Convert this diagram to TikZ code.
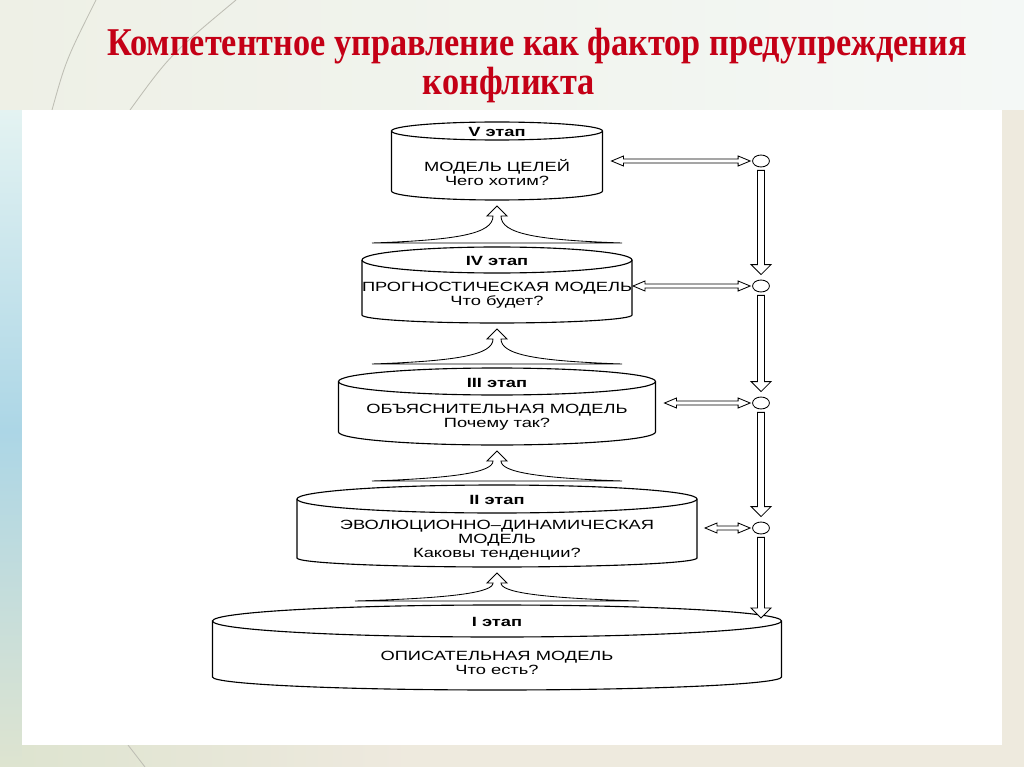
\documentclass[tikz,border=0pt]{standalone}
\usepackage{fontspec}
\setmainfont{Liberation Serif}
\newfontfamily\titlefont[FakeStretch=0.87]{Liberation Serif}
\newfontfamily\diagfont[FakeStretch=1.37]{Liberation Sans}
\usetikzlibrary{calc,shapes.geometric}

\definecolor{titlered}{RGB}{196,0,22}
\definecolor{topleft}{RGB}{238,240,230}
\definecolor{topmid}{RGB}{224,240,245}
\definecolor{topright}{RGB}{244,248,246}
\definecolor{sidetop}{RGB}{228,243,242}
\definecolor{sidemid}{RGB}{172,214,230}
\definecolor{sidebot}{RGB}{222,228,208}
\definecolor{sideright}{RGB}{238,234,222}
\definecolor{bottomband}{RGB}{238,233,222}
\definecolor{decor}{RGB}{190,190,180}

\tikzset{
  stagetxt/.style={font=\diagfont\fontsize{9.5}{9.8}\selectfont, align=center, inner sep=0pt},
  stagelab/.style={font=\diagfont\bfseries\fontsize{9.5}{9.8}\selectfont, inner sep=0pt},
  titletxt/.style={font=\titlefont\bfseries\fontsize{28}{30}\selectfont, text=titlered, inner sep=0pt},
  dot/.style={ellipse, draw, minimum width=12pt, minimum height=8.5pt, inner sep=0pt, line width=0.6pt},
  hollow/.style={draw, fill=white, line width=0.6pt}
}

% one stage: name, x radius, top, bottom of sides, top ry, bottom ry, label, text y, text
\newcommand\stage[9]{%
  \draw[line width=0.8pt, fill=white] (497-#2,#3) -- (497-#2,#4)
    arc[start angle=180, end angle=0, x radius=#2, y radius=#6] -- (497+#2,#3)
    arc[start angle=0, end angle=-180, x radius=#2, y radius=#5] -- cycle;
  \draw[line width=0.8pt] (497-#2,#3) arc[start angle=180, end angle=0, x radius=#2, y radius=#5];
  \coordinate (#1top) at (497,#3-#5);
  \coordinate (#1bot) at (497,#4+#6);
  \coordinate (#1e) at (497+#2,#8);
  \node[stagelab] (#1lab) at (497,#3+1) {#7};
  \node[stagetxt] (#1) at (497,#8) {#9};
}
% widening arrow from the lower stage up to the upper one
\newcommand\funnel[3]{%
  \draw[hollow] ($(#2)+(-#3,-4)$) .. controls ($(#2)+(-40,-7)$) and ($(#2)+(-4,-13)$) .. ($(#1)+(-4,16)$)
    -- ($(#1)+(-10,16)$) -- ($(#1)+(0,6)$) -- ($(#1)+(10,16)$) -- ($(#1)+(4,16)$)
    .. controls ($(#2)+(4,-13)$) and ($(#2)+(40,-7)$) .. ($(#2)+(#3,-4)$) -- cycle;
}
\newcommand\vhollow[2]{%
  \draw[hollow] ($(#1)+(-3.5,3)$) -- ($(#2)+(-3.5,-15)$) -- ($(#2)+(-10,-15)$) -- ($(#2)+(0,-5)$)
    -- ($(#2)+(10,-15)$) -- ($(#2)+(3.5,-15)$) -- ($(#1)+(3.5,3)$) -- cycle;
}
\newcommand\hdouble[3]{%
  \draw[hollow] ($(#1)+(#3,0)$) -- ($(#1)+(#3+12,-5)$) -- ($(#1)+(#3+12,-2)$) -- ($(#2)+(-14,-2)$)
    -- ($(#2)+(-14,-5)$) -- ($(#2)+(-2,0)$) -- ($(#2)+(-14,5)$) -- ($(#2)+(-14,2)$)
    -- ($(#1)+(#3+12,2)$) -- ($(#1)+(#3+12,5)$) -- cycle;
}

\begin{document}
\begin{tikzpicture}[x=0.025cm, y=-0.025cm]
  \useasboundingbox (0,0) rectangle (1024,767);
  % slide background
  \fill[sideright] (0,0) rectangle (1024,767);
  \fill[top color=sidetop, bottom color=sidemid] (0,110) rectangle (22,430);
  \fill[top color=sidemid, bottom color=sidebot] (0,430) rectangle (22,767);
  \fill[left color=topleft, middle color=topmid, right color=topright] (0,0) rectangle (1024,110);
  \fill[left color=sidebot, right color=bottomband] (22,745) rectangle (400,767);
  \draw[decor, line width=0.6pt] (52,110) .. controls (66,60) .. (96,0);
  \draw[decor, line width=0.6pt] (130,110) .. controls (170,55) .. (236,0);
  \draw[decor, line width=0.6pt] (128,745) -- (145,767);
  \fill[white] (22,110) rectangle (1002,745);

  \node[titletxt] (title1) at (537,46) {Компетентное управление как фактор предупреждения};
  \node[titletxt] (title2) at (509,85) {конфликта};

  \stage{v}{105.5}{131}{191}{9}{9}{V этап}{172.5}{МОДЕЛЬ ЦЕЛЕЙ\\Чего хотим?}
  \stage{iv}{135}{260}{315}{13}{8}{IV этап}{295.5}{ПРОГНОСТИЧЕСКАЯ МОДЕЛЬ\\Что будет?}
  \stage{iii}{158.5}{381.5}{432}{13.5}{13}{III этап}{417.5}{ОБЪЯСНИТЕЛЬНАЯ МОДЕЛЬ\\Почему так?}
  \stage{ii}{200}{499}{558}{14}{9}{II этап}{540}{ЭВОЛЮЦИОННО–ДИНАМИЧЕСКАЯ\\МОДЕЛЬ\\Каковы тенденции?}
  \stage{i}{284.5}{621}{677}{16}{13}{I этап}{663}{ОПИСАТЕЛЬНАЯ МОДЕЛЬ\\Что есть?}

  \funnel{vbot}{ivtop}{125}
  \funnel{ivbot}{iiitop}{125}
  \funnel{iiibot}{iitop}{125}
  \funnel{iibot}{itop}{142}

  \node[dot] (c5) at (761,161) {};
  \node[dot] (c4) at (761,286) {};
  \node[dot] (c3) at (761,403) {};
  \node[dot] (c2) at (761,528) {};
  \coordinate (c1) at (761,623);

  \vhollow{c5.south}{c4.north}
  \vhollow{c4.south}{c3.north}
  \vhollow{c3.south}{c2.north}
  \vhollow{c2.south}{c1}

  \hdouble{ve |- c5}{c5.west}{9}
  \hdouble{ive |- c4}{c4.west}{1}
  \hdouble{iiie |- c3}{c3.west}{9}
  \hdouble{iie |- c2}{c2.west}{8}
\end{tikzpicture}
\end{document}
